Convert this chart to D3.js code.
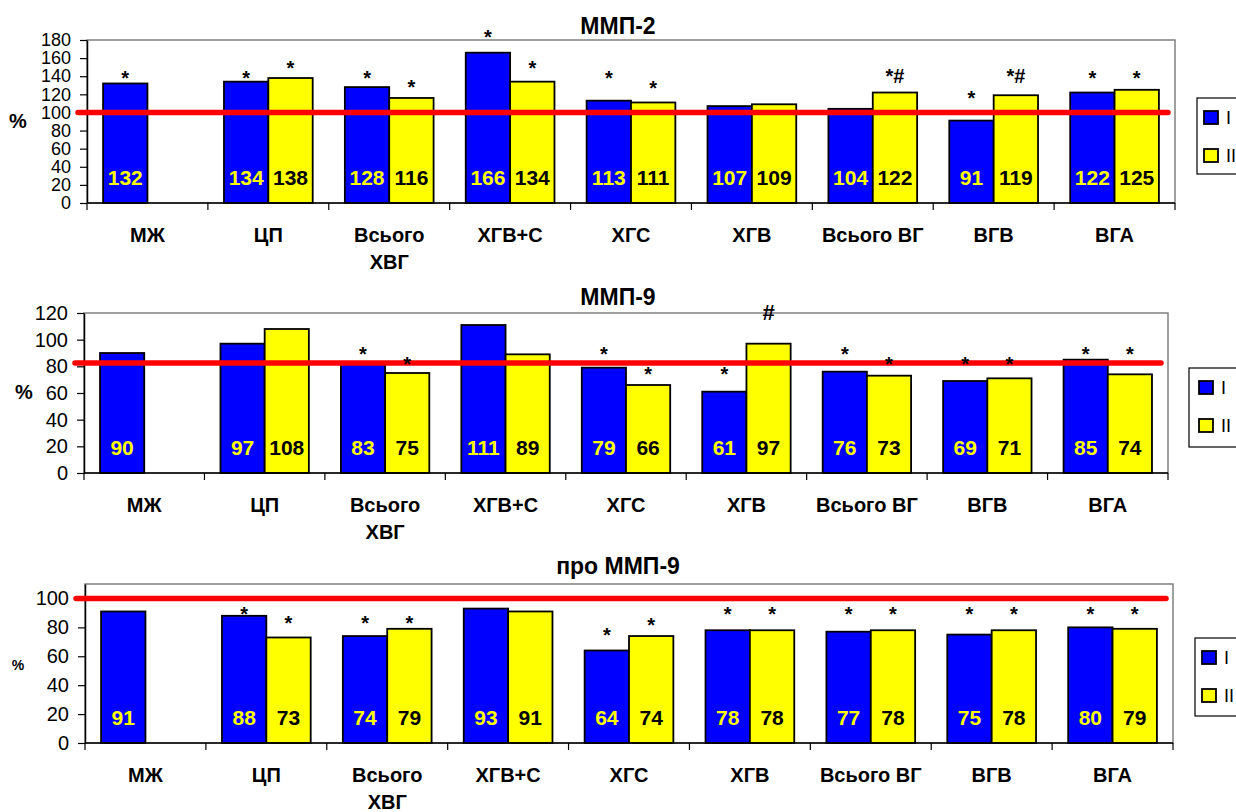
<!DOCTYPE html>
<html>
<head>
<meta charset="utf-8">
<script src="https://cdn.jsdelivr.net/npm/d3@7"></script>
<style>
  body { margin: 0; background: #fff; }
  svg { display: block; font-family: "Liberation Sans", Arial, sans-serif; }
</style>
</head>
<body>
<div id="chart"></div>
<script>
// categories and tick labels
const categories = ["МЖ", "ЦП", "Всього ХВГ", "ХГВ+С", "ХГС", "ХГВ", "Всього ВГ", "ВГВ", "ВГА"];
const categoryLines = [["МЖ"], ["ЦП"], ["Всього", "ХВГ"], ["ХГВ+С"], ["ХГС"], ["ХГВ"], ["Всього ВГ"], ["ВГВ"], ["ВГА"]];
const seriesNames = ["I", "II"];

// ММП-2
const mmp2I = [132, 134, 128, 166, 113, 107, 104, 91, 122];
const mmp2II = [null, 138, 116, 134, 111, 109, 122, 119, 125];
const mmp2MarkI = ["*", "*", "*", "*", "*", "", "", "*", "*"];
const mmp2MarkII = ["", "*", "*", "*", "*", "", "*#", "*#", "*"];
const mmp2MarkLevelI = [143, 143, 143, 188, 143, null, null, 120, 143];
const mmp2MarkLevelII = [null, 153, 132, 153, 131, null, 145, 145, 143];
const mmp2Ref = 100;
const mmp2Ticks = [0, 20, 40, 60, 80, 100, 120, 140, 160, 180];

// ММП-9
const mmp9I = [90, 97, 83, 111, 79, 61, 76, 69, 85];
const mmp9II = [null, 108, 75, 89, 66, 97, 73, 71, 74];
const mmp9MarkI = ["", "", "*", "", "*", "*", "*", "*", "*"];
const mmp9MarkII = ["", "", "*", "", "*", "#", "*", "*", "*"];
const mmp9MarkLevelI = [null, null, 92, null, 92, 77, 92, 85, 92];
const mmp9MarkLevelII = [null, null, 85, null, 77, 123, 85, 85, 92];
const mmp9Ref = 82.5;
const mmp9Ticks = [0, 20, 40, 60, 80, 100, 120];

// про ММП-9
const proI = [91, 88, 74, 93, 64, 78, 77, 75, 80];
const proII = [null, 73, 79, 91, 74, 78, 78, 78, 79];
const proMarkI = ["", "*", "*", "", "*", "*", "*", "*", "*"];
const proMarkII = ["", "*", "*", "", "*", "*", "*", "*", "*"];
const proMarkLevelI = [null, 92, 85.5, null, 77.5, 92, 92, 92, 92];
const proMarkLevelII = [null, 85.5, 85.5, null, 84.5, 92, 92, 92, 92];
const proRef = 100;
const proTicks = [0, 20, 40, 60, 80, 100];

const colors = ["#0000ff", "#ffff00"];
const labelColors = ["#ffff00", "#000000"];

const panels = [
  { title: "ММП-2", values: [mmp2I, mmp2II], marks: [mmp2MarkI, mmp2MarkII], levels: [mmp2MarkLevelI, mmp2MarkLevelII],
    ref: mmp2Ref, ticks: mmp2Ticks, max: 180, tickFont: 18,
    left: 87, right: 1175, top: 40, bottom: 203, titleY: 34,
    pct: { x: 18, y: 128, size: 20 }, legend: { x: 1197, y: 98, h: 76, dx: 7 } },
  { title: "ММП-9", values: [mmp9I, mmp9II], marks: [mmp9MarkI, mmp9MarkII], levels: [mmp9MarkLevelI, mmp9MarkLevelII],
    ref: mmp9Ref, ticks: mmp9Ticks, max: 120, tickFont: 20,
    left: 84, right: 1168, top: 313, bottom: 473, titleY: 305,
    pct: { x: 24, y: 399, size: 20 }, legend: { x: 1189, y: 368, h: 79, dx: 10 } },
  { title: "про ММП-9", values: [proI, proII], marks: [proMarkI, proMarkII], levels: [proMarkLevelI, proMarkLevelII],
    ref: proRef, ticks: proTicks, max: 110, tickFont: 20,
    left: 85, right: 1173, top: 584, bottom: 743, titleY: 574,
    pct: { x: 18, y: 670, size: 14 }, legend: { x: 1195, y: 638, h: 78, dx: 7 } }
];

const svg = d3.select("#chart").append("svg")
  .attr("width", 1236)
  .attr("height", 812);

function drawPanel(p) {
  const g = svg.append("g");

  const x = d3.scaleBand()
    .domain(categories)
    .range([p.left, p.right])
    .paddingInner(0)
    .paddingOuter(0);
  const barW = x.bandwidth() * 0.367;
  const groupOff = x.bandwidth() * 0.133;

  const y = d3.scaleLinear()
    .domain([0, p.max])
    .range([p.bottom, p.top]);

  // plot frame (grey top/right)
  g.append("rect")
    .attr("x", p.left).attr("y", p.top)
    .attr("width", p.right - p.left).attr("height", p.bottom - p.top)
    .attr("fill", "#fff").attr("stroke", "#808080").attr("stroke-width", 1.5);

  // bars
  const bars = [];
  p.values.forEach((vals, s) => {
    vals.forEach((v, i) => {
      if (v != null) bars.push({ c: categories[i], s, v, i });
    });
  });

  g.selectAll("rect.bar")
    .data(bars)
    .enter().append("rect")
    .attr("class", "bar")
    .attr("x", d => x(d.c) + groupOff + d.s * barW)
    .attr("width", barW)
    .attr("y", d => y(d.v))
    .attr("height", d => y(0) - y(d.v))
    .attr("fill", d => colors[d.s])
    .attr("stroke", "#000")
    .attr("stroke-width", 1.8);

  // axes
  const yAxis = g.append("g")
    .attr("transform", `translate(${p.left},0)`)
    .call(d3.axisLeft(y).tickValues(p.ticks).tickSize(7).tickSizeOuter(0).tickPadding(9));
  yAxis.select(".domain").attr("stroke", "#000").attr("stroke-width", 1.5);
  yAxis.selectAll(".tick line").attr("stroke", "#000").attr("stroke-width", 1.2);
  yAxis.selectAll(".tick text")
    .attr("font-family", "'Liberation Sans', Arial, sans-serif")
    .attr("font-size", p.tickFont)
    .attr("fill", "#000");

  g.append("line")
    .attr("x1", p.left).attr("x2", p.right)
    .attr("y1", y(0)).attr("y2", y(0))
    .attr("stroke", "#000").attr("stroke-width", 1.5);

  const bounds = categories.map(c => x(c)).concat([p.right]);
  g.selectAll("line.xtick")
    .data(bounds)
    .enter().append("line")
    .attr("class", "xtick")
    .attr("x1", d => d).attr("x2", d => d)
    .attr("y1", y(0)).attr("y2", y(0) + 7)
    .attr("stroke", "#000").attr("stroke-width", 1.2);

  // reference line
  g.append("line")
    .attr("x1", p.left - 9).attr("x2", p.right - 7)
    .attr("y1", y(p.ref)).attr("y2", y(p.ref))
    .attr("stroke", "#ff0000").attr("stroke-width", 5.5)
    .attr("stroke-linecap", "round");

  // value labels inside bars
  g.selectAll("text.val")
    .data(bars)
    .enter().append("text")
    .attr("class", "val")
    .attr("x", d => x(d.c) + groupOff + d.s * barW + barW / 2)
    .attr("y", y(0) - 18)
    .attr("text-anchor", "middle")
    .attr("font-size", 21)
    .attr("font-weight", "bold")
    .attr("fill", d => labelColors[d.s])
    .text(d => d.v);

  // significance marks
  const marks = [];
  p.marks.forEach((arr, s) => {
    arr.forEach((m, i) => {
      if (m) marks.push({ c: categories[i], s, m, lvl: p.levels[s][i] });
    });
  });
  g.selectAll("text.mark")
    .data(marks)
    .enter().append("text")
    .attr("class", "mark")
    .attr("x", d => x(d.c) + groupOff + d.s * barW + barW / 2)
    .attr("y", d => y(d.lvl) + 11)
    .attr("text-anchor", "middle")
    .attr("font-size", d => d.m === "#" ? 22 : 20)
    .attr("font-weight", "bold")
    .attr("fill", "#000")
    .text(d => d.m);

  // category labels
  const cat = g.selectAll("text.cat")
    .data(categories)
    .enter().append("text")
    .attr("class", "cat")
    .attr("x", d => x(d) + x.bandwidth() / 2)
    .attr("y", y(0) + 39)
    .attr("text-anchor", "middle")
    .attr("font-size", 20)
    .attr("font-weight", "bold")
    .attr("fill", "#000");
  cat.each(function (d, i) {
    const t = d3.select(this);
    categoryLines[i].forEach((line, k) => {
      t.append("tspan")
        .attr("x", x(d) + x.bandwidth() / 2)
        .attr("dy", k === 0 ? 0 : 27)
        .text(line);
    });
  });

  // title
  g.append("text")
    .attr("x", 618)
    .attr("y", p.titleY)
    .attr("text-anchor", "middle")
    .attr("font-size", 23)
    .attr("font-weight", "bold")
    .text(p.title);

  // y label
  g.append("text")
    .attr("x", p.pct.x)
    .attr("y", p.pct.y)
    .attr("text-anchor", "middle")
    .attr("font-size", p.pct.size)
    .attr("font-weight", "bold")
    .text("%");

  // legend
  const L = p.legend;
  g.append("rect")
    .attr("x", L.x).attr("y", L.y)
    .attr("width", 80).attr("height", L.h)
    .attr("fill", "#fff").attr("stroke", "#000").attr("stroke-width", 1.2);
  seriesNames.forEach((name, s) => {
    const cy = L.y + 20 + s * 38;
    g.append("rect")
      .attr("x", L.x + L.dx).attr("y", cy - 7)
      .attr("width", 14).attr("height", 13)
      .attr("fill", colors[s]).attr("stroke", "#000").attr("stroke-width", 1.8);
    g.append("text")
      .attr("x", L.x + L.dx + 22)
      .attr("y", cy + 6)
      .attr("font-size", 18)
      .text(name);
  });
}

panels.forEach(drawPanel);
</script>
</body>
</html>
